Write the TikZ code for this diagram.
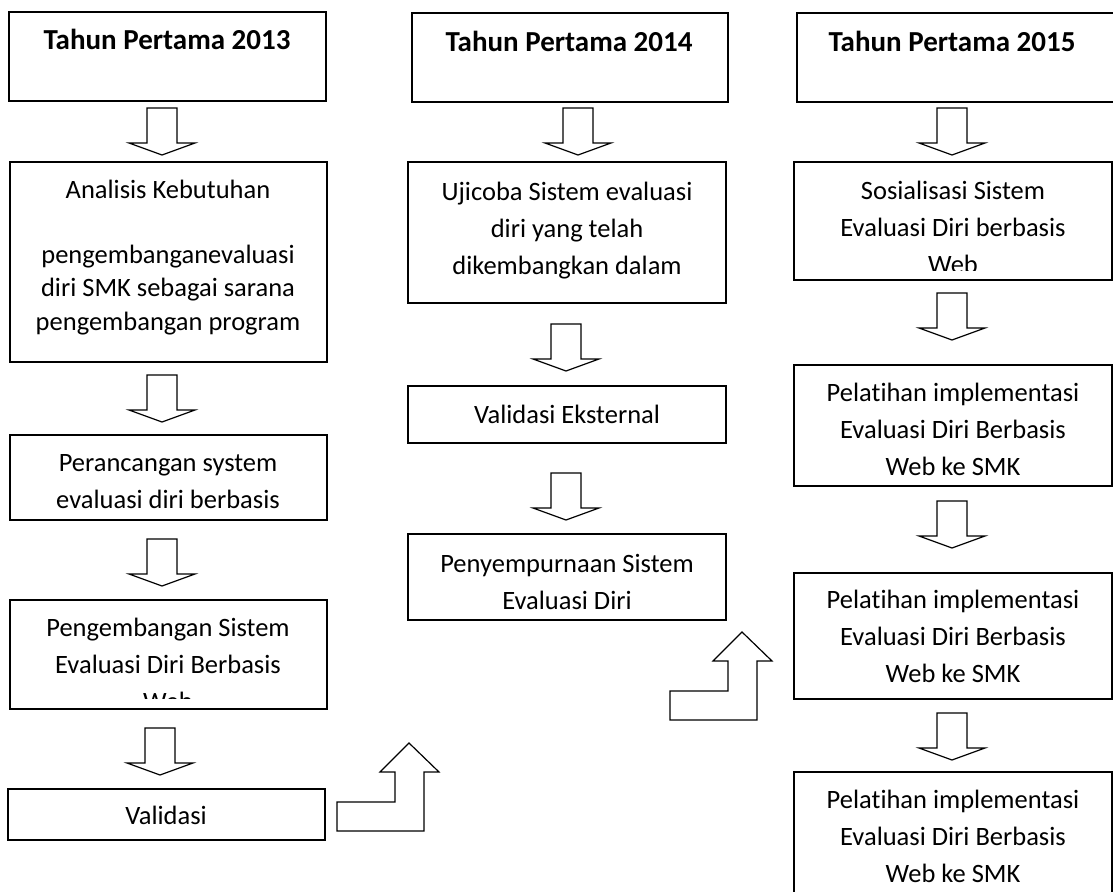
\documentclass[tikz,border=0pt]{standalone}
\usepackage{fontspec}
\setmainfont[Ligatures=NoCommon]{Carlito}
\begin{document}
\begin{tikzpicture}[x=1pt, y=-1pt]
        \tikzstyle{every node}=[inner sep=0pt]
        \tikzstyle{box}=[draw, line width=1.5pt, rectangle]
        \tikzstyle{txt}=[align=center, anchor=base, font=\fontsize{26.5}{37}\selectfont]
        \tikzstyle{head}=[anchor=base, font=\fontsize{29}{35}\selectfont\bfseries]
        \tikzstyle{blk}=[draw, line width=1.2pt, fill=white]

        \clip (0,0) rectangle (1113,891);

        % 2013 (text nodes sit on the baseline of their last line)
        \path (167.5,56.5) node[box, minimum width=317, minimum height=89] (h1) {};
        \path (168.5,262) node[box, minimum width=317, minimum height=200] (a1) {};
        \path (168.5,477.5) node[box, minimum width=317, minimum height=85] (p1) {};
        \path (168.5,654.5) node[box, minimum width=317, minimum height=109] (g1) {};
        \path (166.5,814.5) node[box, minimum width=317, minimum height=51] (v1) {};

        \path (167,50) node[head] (h1t) {Tahun Pertama 2013};
        \path (168,330) node[txt, font=\fontsize{26.5}{33.5}\selectfont] (a1t)
          {Analisis Kebutuhan\\[31.5pt] pengembanganevaluasi\\ diri SMK sebagai sarana\\ pengembangan program};
        \path (168,508) node[txt] (p1t) {Perancangan system\\ evaluasi diri berbasis};
        \begin{scope}
          \clip (10,600) rectangle (327,698);
          \path (168,710) node[txt] (g1t) {Pengembangan Sistem\\ Evaluasi Diri Berbasis\\ Web};
        \end{scope}
        \path (166,824) node[txt] (v1t) {Validasi};

        % 2014
        \path (570,57.5) node[box, minimum width=316, minimum height=89] (h2) {};
        \path (567,232.5) node[box, minimum width=318, minimum height=141] (u2) {};
        \path (567,414.5) node[box, minimum width=318, minimum height=57] (e2) {};
        \path (567,577) node[box, minimum width=318, minimum height=86] (s2) {};

        \path (569,52) node[head] (h2t) {Tahun Pertama 2014};
        \path (567,274) node[txt] (u2t) {Ujicoba Sistem evaluasi\\ diri yang telah\\ dikembangkan dalam};
        \path (567,423) node[txt] (e2t) {Validasi Eksternal};
        \path (567,609) node[txt] (s2t) {Penyempurnaan Sistem\\ Evaluasi Diri};

        % 2015
        \path (963.5,57.5) node[box, minimum width=333, minimum height=89] (h3) {};
        \path (953,221) node[box, minimum width=318, minimum height=118] (o3) {};
        \path (953,425.5) node[box, minimum width=318, minimum height=121] (l1) {};
        \path (953,636) node[box, minimum width=318, minimum height=126] (l2) {};
        \path (953,841) node[box, minimum width=318, minimum height=138] (l3) {};

        \path (952,52) node[head] (h3t) {Tahun Pertama 2015};
        \begin{scope}
          \clip (794,162) rectangle (1112,270);
          \path (953,273) node[txt] (o3t) {Sosialisasi Sistem\\ Evaluasi Diri berbasis\\ Web};
        \end{scope}
        \path (953,475) node[txt] (l1t) {Pelatihan implementasi\\ Evaluasi Diri Berbasis\\ Web ke SMK};
        \path (953,682) node[txt] (l2t) {Pelatihan implementasi\\ Evaluasi Diri Berbasis\\ Web ke SMK};
        \path (953,882) node[txt] (l3t) {Pelatihan implementasi\\ Evaluasi Diri Berbasis\\ Web ke SMK};

        % block arrows
        \foreach \c/\t in {162/108, 162/375, 162/539, 160/728, 578/108, 566/324, 566/473,
                           952/108, 952/293, 952/501, 952/713}
        {
          \draw[blk] (\c-15,\t) -- (\c+15,\t) -- (\c+15,\t+35) -- (\c+33,\t+35)
            -- (\c,\t+47) -- (\c-33,\t+35) -- (\c-15,\t+35) -- cycle;
        }

        \foreach \x/\y in {337/831, 670/720}
        {
          \draw[blk] (\x,\y) -- ++(87,0) -- ++(0,-59) -- ++(15,0) -- ++(-30,-29)
            -- ++(-29,29) -- ++(15,0) -- ++(0,30) -- ++(-58,0) -- cycle;
        }
      \end{tikzpicture}
\end{document}
